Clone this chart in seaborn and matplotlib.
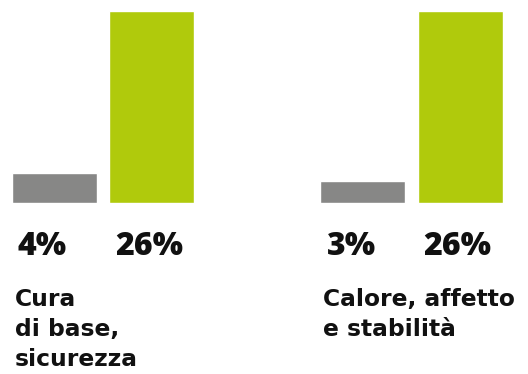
import matplotlib
matplotlib.use("Agg")
import matplotlib.pyplot as plt
import seaborn as sns
import pandas as pd

categories = ["Cura\ndi base,\nsicurezza", "Calore, affetto\ne stabilità"]
series = ["Altri", "Noi"]
values_altri = [4, 3]
values_noi = [26, 26]
colors = ["#878786", "#b0ca0c"]

rows = []
for cat, a, n in zip(categories, values_altri, values_noi):
    rows.append({"categoria": cat, "serie": series[0], "valore": a})
    rows.append({"categoria": cat, "serie": series[1], "valore": n})
df = pd.DataFrame(rows)

sns.set_theme(style="white")
plt.rcParams["font.family"] = ["Open Sans", "DejaVu Sans"]

W, H = 528, 374
fig = plt.figure(figsize=(W / 100, H / 100), dpi=100)
ax = fig.add_axes([0, (H - 203) / H, 1, 192 / H])

sns.barplot(data=df, x="categoria", y="valore", hue="serie", palette=colors,
            width=0.629, gap=0.124, saturation=1, legend=False, ax=ax)

ax.set_ylim(0, 26)
ax.set_xlim(-103 / 308.5, (W - 103) / 308.5)
ax.set_axis_off()

# value labels under each bar
for container in ax.containers:
    for bar in container:
        v = bar.get_height()
        ax.annotate(f"{v:.0f}%", xy=(bar.get_x(), 0), xycoords="data",
                    xytext=(6, -52), textcoords="offset pixels",
                    ha="left", va="baseline", fontsize=23, fontweight="heavy",
                    color="#111111")

# category labels under each group
first = ax.containers[0]
for bar, cat in zip(first, categories):
    ax.annotate(cat, xy=(bar.get_x(), 0), xycoords="data",
                xytext=(3, -85), textcoords="offset pixels",
                ha="left", va="top", fontsize=16.8, fontweight="bold",
                family="DejaVu Sans", color="#111111", linespacing=1.4)

fig.savefig("out.png", dpi=100)
